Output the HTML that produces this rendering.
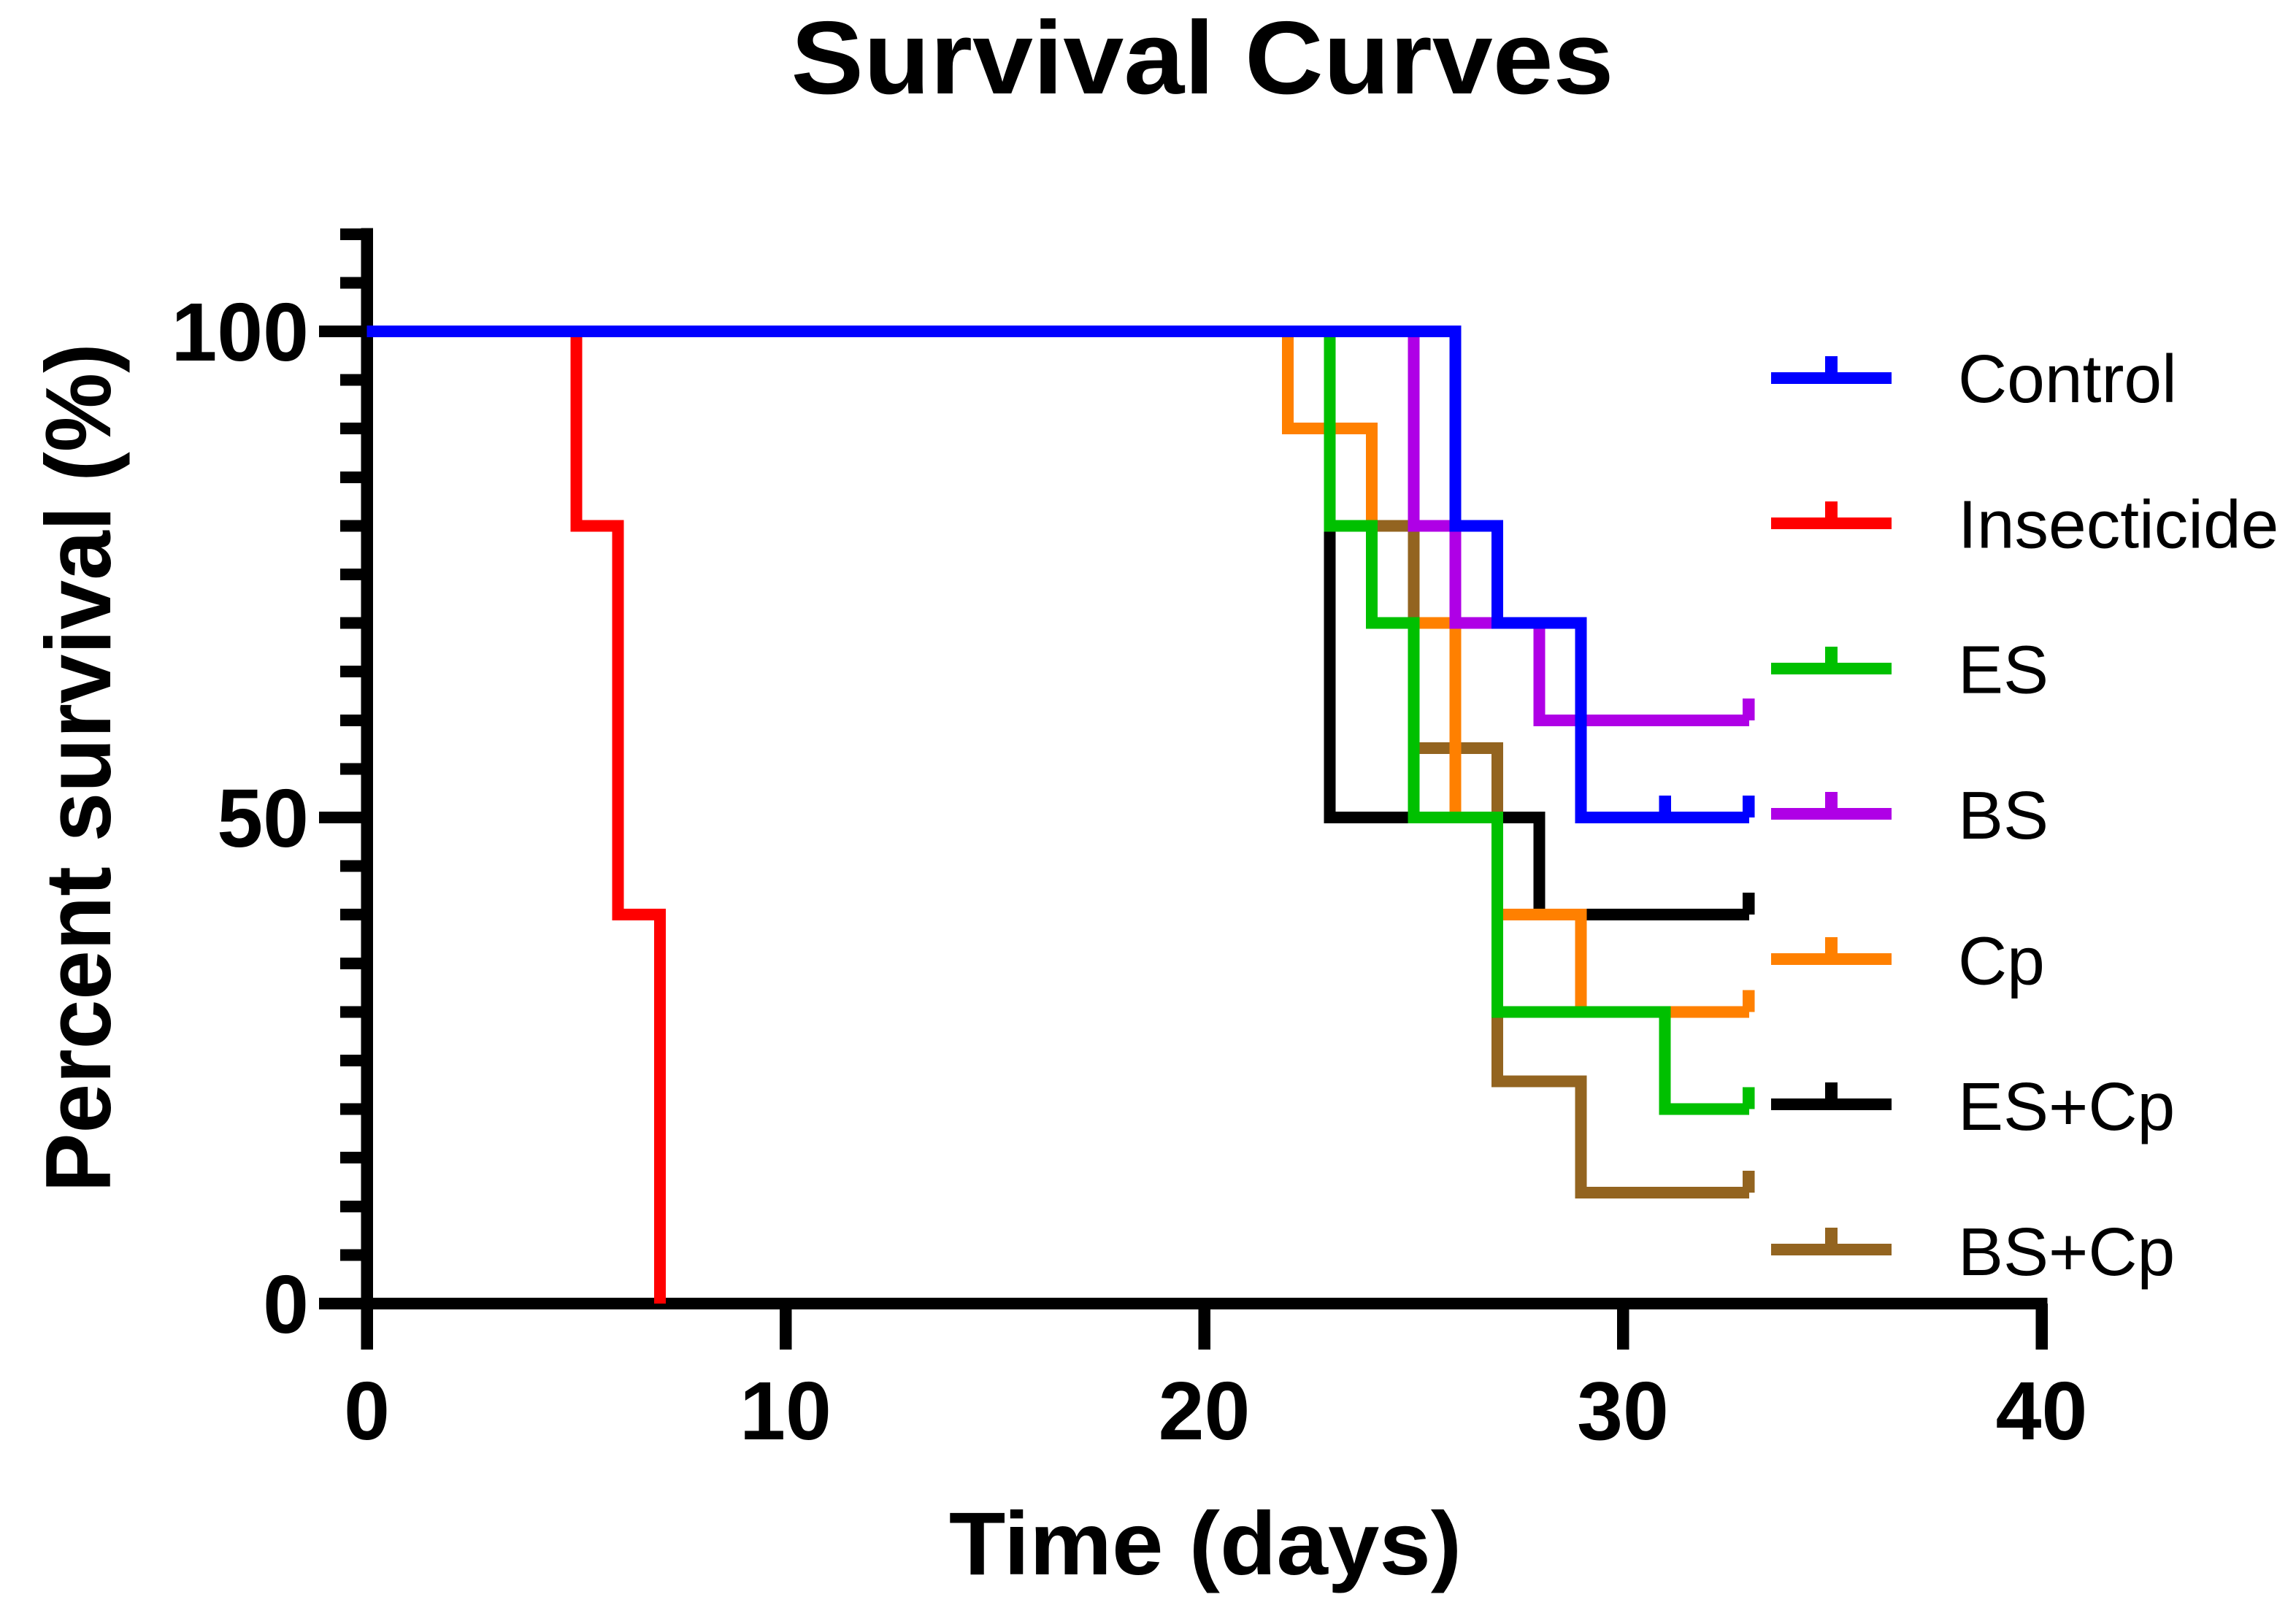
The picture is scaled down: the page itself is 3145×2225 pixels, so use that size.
<!DOCTYPE html>
<html lang="en">
<head>
<meta charset="utf-8">
<title>Survival Curves</title>
<style>
html,body{margin:0;padding:0;background:#fff;}
svg{display:block;}
text{font-family:"Liberation Sans",Arial,sans-serif;fill:#000;}
.bold{font-weight:bold;}
</style>
</head>
<body>
<svg id="chart" xmlns="http://www.w3.org/2000/svg" width="3145" height="2225" viewBox="0 0 3145 2225" shape-rendering="crispEdges">
  <rect x="0" y="0" width="3145" height="2225" fill="#ffffff"/>
  <text class="bold" transform="translate(1647,128) scale(1.05,1)" font-size="142" text-anchor="middle">Survival Curves</text>
  <text class="bold" transform="translate(151,1052) rotate(-90) scale(1,1.045)" font-size="121.7" text-anchor="middle">Percent survival (%)</text>
  <text class="bold" transform="translate(1651,2157) scale(1.035,1)" font-size="122.5" text-anchor="middle">Time (days)</text>
  <g id="axes"></g>
  <g id="series"></g>
  <g id="legend"></g>
</svg>
<script>
// Axis ticks
const xTickValues = [0, 10, 20, 30, 40];
const xTickLabels = ['0', '10', '20', '30', '40'];
const yMajorValues = [0, 50, 100];
const yMajorLabels = ['0', '50', '100'];
const yMinorValues = [5, 10, 15, 20, 25, 30, 35, 40, 45, 55, 60, 65, 70, 75, 80, 85, 90, 95, 105, 110];

// Series names (drawing order is back to front)
const seriesNames = ['Insecticide', 'ES+Cp', 'BS+Cp', 'Cp', 'ES', 'BS', 'Control'];
const legendOrder = ['Control', 'Insecticide', 'ES', 'BS', 'Cp', 'ES+Cp', 'BS+Cp'];

// Kaplan-Meier steps: event days and survival after each event
const insecticideDays = [5, 6, 7];
const insecticideSurvival = [80, 40, 0];
const insecticideCensored = [];
const insecticideEnd = 7;

const esCpDays = [23, 28];
const esCpSurvival = [50, 40];
const esCpCensored = [33];
const esCpEnd = 33;

const bsCpDays = [23, 25, 27, 29];
const bsCpSurvival = [80, 57.14, 22.86, 11.43];
const bsCpCensored = [33];
const bsCpEnd = 33;

const cpDays = [22, 24, 26, 27, 29];
const cpSurvival = [90, 70, 50, 40, 30];
const cpCensored = [33];
const cpEnd = 33;

const esDays = [23, 24, 25, 27, 31];
const esSurvival = [80, 70, 50, 30, 20];
const esCensored = [33];
const esEnd = 33;

const bsDays = [25, 26, 28];
const bsSurvival = [80, 70, 60];
const bsCensored = [33];
const bsEnd = 33;

const controlDays = [26, 27, 29];
const controlSurvival = [80, 70, 50];
const controlCensored = [31, 33];
const controlEnd = 33;

const seriesDays = {'Insecticide': insecticideDays, 'ES+Cp': esCpDays, 'BS+Cp': bsCpDays, 'Cp': cpDays, 'ES': esDays, 'BS': bsDays, 'Control': controlDays};
const seriesValues = {'Insecticide': insecticideSurvival, 'ES+Cp': esCpSurvival, 'BS+Cp': bsCpSurvival, 'Cp': cpSurvival, 'ES': esSurvival, 'BS': bsSurvival, 'Control': controlSurvival};
const seriesCensored = {'Insecticide': insecticideCensored, 'ES+Cp': esCpCensored, 'BS+Cp': bsCpCensored, 'Cp': cpCensored, 'ES': esCensored, 'BS': bsCensored, 'Control': controlCensored};
const seriesEnds = {'Insecticide': insecticideEnd, 'ES+Cp': esCpEnd, 'BS+Cp': bsCpEnd, 'Cp': cpEnd, 'ES': esEnd, 'BS': bsEnd, 'Control': controlEnd};
const seriesColors = {'Control': '#0000ff', 'Insecticide': '#ff0000', 'ES': '#00c000', 'BS': '#af00e6', 'Cp': '#ff8000', 'ES+Cp': '#000000', 'BS+Cp': '#936420'};

const NS = 'http://www.w3.org/2000/svg';
const X0 = 502.5, XPER = 57.35;
const Y0 = 1786, YPER = 13.32;
function xScale(t) { return X0 + t * XPER; }
function yScale(v) { return Y0 - v * YPER; }
function slug(s) { return s.toLowerCase().replace(/[^a-z0-9]+/g, '-'); }

function make(parent, tag, attrs) {
  const el = document.createElementNS(NS, tag);
  for (const k in attrs) el.setAttribute(k, attrs[k]);
  parent.appendChild(el);
  return el;
}

const axes = document.getElementById('axes');
const series = document.getElementById('series');
const legend = document.getElementById('legend');

// Y axis line
const yAxisLine = make(axes, 'rect', {x: X0 - 8, y: yScale(110) - 8.5, width: 16.5, height: 1849 - (yScale(110) - 8.5), fill: '#000'});



// X axis line
const xAxisLine = make(axes, 'rect', {x: xScale(0) - 65, y: yScale(0) - 8, width: xScale(40) + 8 - (xScale(0) - 65), height: 16, fill: '#000'});



// Y minor ticks
yMinorValues.forEach(function (v) {
  const tick = make(axes, 'rect', {x: 466, y: yScale(v) - 8, width: X0 - 466, height: 16, fill: '#000'});
  
  
});

// Y major ticks and labels
yMajorValues.forEach(function (v, i) {
  const tick = make(axes, 'rect', {x: 437, y: yScale(v) - 8, width: X0 - 437, height: 16, fill: '#000'});
  
  
  const label = make(axes, 'text', {x: 423, y: yScale(v) + 40, 'font-size': 113, 'font-weight': 'bold', 'text-anchor': 'end'});
  label.textContent = yMajorLabels[i];
  
  
});

// X ticks and labels
xTickValues.forEach(function (t, i) {
  const tick = make(axes, 'rect', {x: xScale(t) - 8, y: yScale(0), width: 16.5, height: 1849 - yScale(0), fill: '#000'});
  
  
  const label = make(axes, 'text', {x: xScale(t), y: 1972, 'font-size': 113, 'font-weight': 'bold', 'text-anchor': 'middle'});
  label.textContent = xTickLabels[i];
  
  
});

// Survival curves
seriesNames.forEach(function (name) {
  const days = seriesDays[name];
  const vals = seriesValues[name];
  const color = seriesColors[name];
  const group = make(series, 'g', {});
  
  
  let d = 'M' + xScale(0) + ' ' + yScale(100);
  days.forEach(function (t, i) {
    d += 'H' + xScale(t) + 'V' + yScale(vals[i]);
  });
  d += 'H' + (xScale(seriesEnds[name]) + (seriesEnds[name] > days[days.length - 1] ? 1 : 0));
  const line = make(group, 'path', {d: d, fill: 'none', stroke: color, 'stroke-width': 16, 'stroke-linejoin': 'miter', 'stroke-linecap': 'butt'});
  
  
  seriesCensored[name].forEach(function (t) {
    const lastIdx = days.filter(function (e) { return e <= t; }).length - 1;
    const v = lastIdx >= 0 ? vals[lastIdx] : 100;
    const mark = make(group, 'rect', {x: xScale(t) - 8, y: yScale(v) - 30, width: 16.5, height: 30, fill: color});
    
    
  });
});

// Legend
legendOrder.forEach(function (name, i) {
  const cy = 518 + i * 199;
  const color = seriesColors[name];
  const entry = make(legend, 'g', {});
  
  
  const swatch = make(entry, 'rect', {x: 2426, y: cy - 8, width: 165, height: 16, fill: color});
  
  
  const swatchTick = make(entry, 'rect', {x: 2500, y: cy - 30, width: 17, height: 30, fill: color});
  
  
  const label = make(entry, 'text', {x: 2682, y: cy + 33 + i * 0.35, 'font-size': 93});
  label.textContent = name;
  
  
});
</script>
</body>
</html>
